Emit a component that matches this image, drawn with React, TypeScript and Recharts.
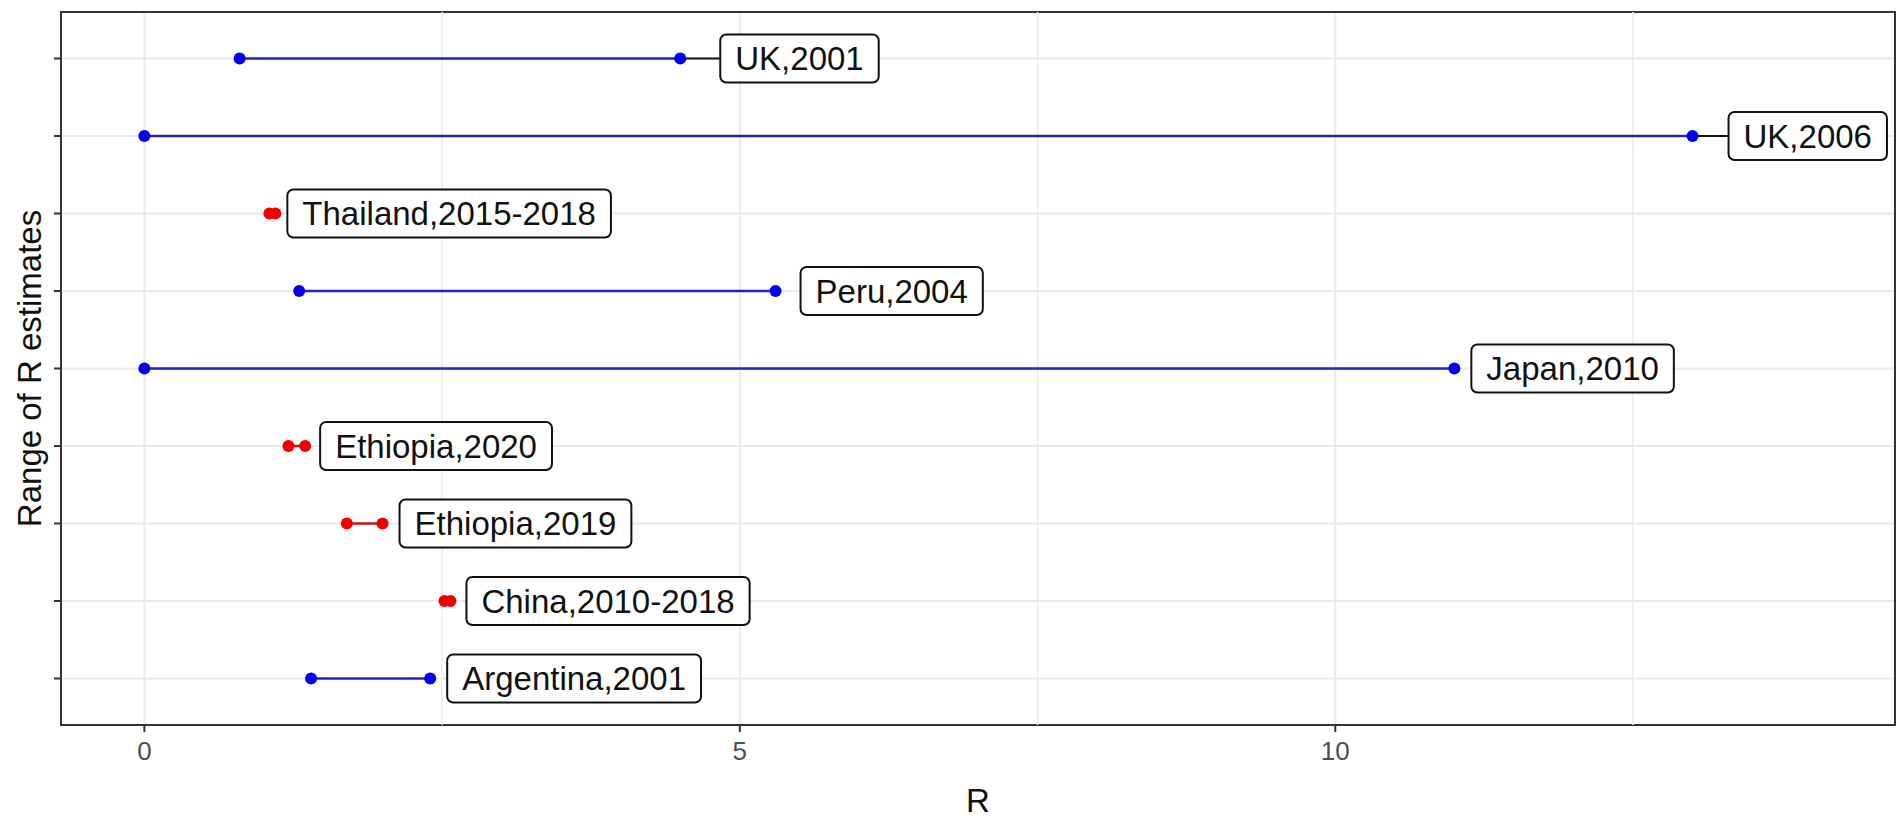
import React from "react";
import {
  ScatterChart,
  Scatter,
  XAxis,
  YAxis,
  CartesianGrid,
  ReferenceLine,
  ReferenceArea,
  Label,
} from "recharts";

// ---- data (bottom row first) ----
const studies = [
  "Argentina,2001",
  "China,2010-2018",
  "Ethiopia,2019",
  "Ethiopia,2020",
  "Japan,2010",
  "Peru,2004",
  "Thailand,2015-2018",
  "UK,2006",
  "UK,2001",
];
const lowR = [1.4, 2.52, 1.7, 1.21, 0.0, 1.3, 1.05, 0.0, 0.8];
const highR = [2.4, 2.57, 2.0, 1.35, 11.0, 5.3, 1.1, 13.0, 4.5];
const group = ["B", "A", "A", "A", "B", "B", "A", "B", "B"];
const xTicks = [0, 5, 10];
const xMinorBreaks = [2.5, 7.5, 12.5];
const yTicks = [1, 2, 3, 4, 5, 6, 7, 8, 9];

// ---- layout / style ----
const labelGapPx = [17, 16, 17, 15, 17, 25, 12, 36, 40];
const FONT = '"Liberation Sans", Arial, sans-serif';
const LABEL_FS = 33;
const pointColor: Record<string, string> = { A: "#f20000", B: "#0000f0" };
const lineColor: Record<string, string> = { A: "#c81414", B: "#2424b4" };

let ctx: CanvasRenderingContext2D | null = null;
function textWidth(s: string, fs: number): number {
  if (!ctx && typeof document !== "undefined") {
    const c = document.createElement("canvas");
    ctx = c.getContext("2d");
  }
  if (ctx) {
    ctx.font = `${fs}px "Liberation Sans", Arial, sans-serif`;
    return ctx.measureText(s).width;
  }
  return s.length * fs * 0.55;
}

const makeShape = (g: string) => (props: any) => {
  const { cx, cy, payload } = props;
  const r = 6;
  const dot = <circle cx={cx} cy={cy} r={r} fill={pointColor[g]} />;
  if (!payload || !payload.label) return dot;
  const gap = payload.gap as number;
  const tw = textWidth(payload.label, LABEL_FS);
  const padX = 15;
  const h = 48;
  const bx = cx + gap;
  const by = cy - h / 2;
  return (
    <g>
      {gap > 30 && (
        <line x1={cx} y1={cy} x2={bx} y2={cy} stroke="#111" strokeWidth={2} />
      )}
      {dot}
      <rect
        x={bx}
        y={by}
        width={tw + 2 * padX}
        height={h}
        rx={6}
        ry={6}
        fill="#ffffff"
        stroke="#111"
        strokeWidth={2}
      />
      <text
        x={bx + padX}
        y={cy + LABEL_FS * 0.36}
        fontSize={LABEL_FS}
        fontFamily={FONT}
        fill="#111"
      >
        {payload.label}
      </text>
    </g>
  );
};

const emptyTick = () => <g />;

export default function App() {
  const series = studies.map((name, i) => ({
    name,
    g: group[i],
    data: [
      { x: lowR[i], y: i + 1 },
      { x: highR[i], y: i + 1, label: name, gap: labelGapPx[i] },
    ],
  }));

  return (
    <div
      style={{
        position: "absolute",
        left: 0,
        top: 0,
        width: 1902,
        height: 825,
        background: "#ffffff",
        fontFamily: FONT,
      }}
    >
      <ScatterChart
        width={1902}
        height={825}
        margin={{ top: 12, right: 7, bottom: 0, left: 0 }}
      >
        <CartesianGrid stroke="#ebebeb" strokeWidth={2} />
        {xMinorBreaks.map((v) => (
          <ReferenceLine
            key={v}
            x={v}
            stroke="#ebebeb"
            strokeWidth={1.5}
            ifOverflow="visible"
          />
        ))}
        <XAxis
          type="number"
          dataKey="x"
          domain={[-0.7, 14.7]}
          allowDataOverflow
          ticks={xTicks}
          height={100}
          axisLine={false}
          tickSize={7}
          tickMargin={10}
          tickLine={{ stroke: "#333333", strokeWidth: 2 }}
          tick={{ fill: "#4d4d4d", fontSize: 26, fontFamily: FONT }}
        >
          <Label
            value="R"
            position="insideBottom"
            offset={13}
            style={{ fontSize: 33, fill: "#111", fontFamily: FONT }}
          />
        </XAxis>
        <YAxis
          type="number"
          dataKey="y"
          domain={[0.4, 9.6]}
          allowDataOverflow
          ticks={yTicks}
          width={61}
          axisLine={false}
          tickSize={7}
          tickLine={{ stroke: "#333333", strokeWidth: 2 }}
          tick={emptyTick}
        >
          <Label
            content={(p: any) => {
              const vb = p.viewBox || { x: 0, y: 12, width: 61, height: 713 };
              const cx = 41;
              const cy = vb.y + vb.height / 2;
              return (
                <text
                  x={cx}
                  y={cy}
                  transform={`rotate(-90, ${cx}, ${cy})`}
                  textAnchor="middle"
                  fontSize={33}
                  fontFamily={FONT}
                  fill="#111"
                >
                  Range of R estimates
                </text>
              );
            }}
          />
        </YAxis>
        {series.map((s) => (
          <Scatter
            key={s.name}
            name={s.name}
            data={s.data}
            line={{ stroke: lineColor[s.g], strokeWidth: 2.5 }}
            shape={makeShape(s.g)}
            isAnimationActive={false}
          />
        ))}
        <ReferenceArea
          x1={-0.7}
          x2={14.7}
          y1={0.4}
          y2={9.6}
          fill="none"
          fillOpacity={0}
          stroke="#333333"
          strokeWidth={2}
          ifOverflow="visible"
        />
      </ScatterChart>
    </div>
  );
}
